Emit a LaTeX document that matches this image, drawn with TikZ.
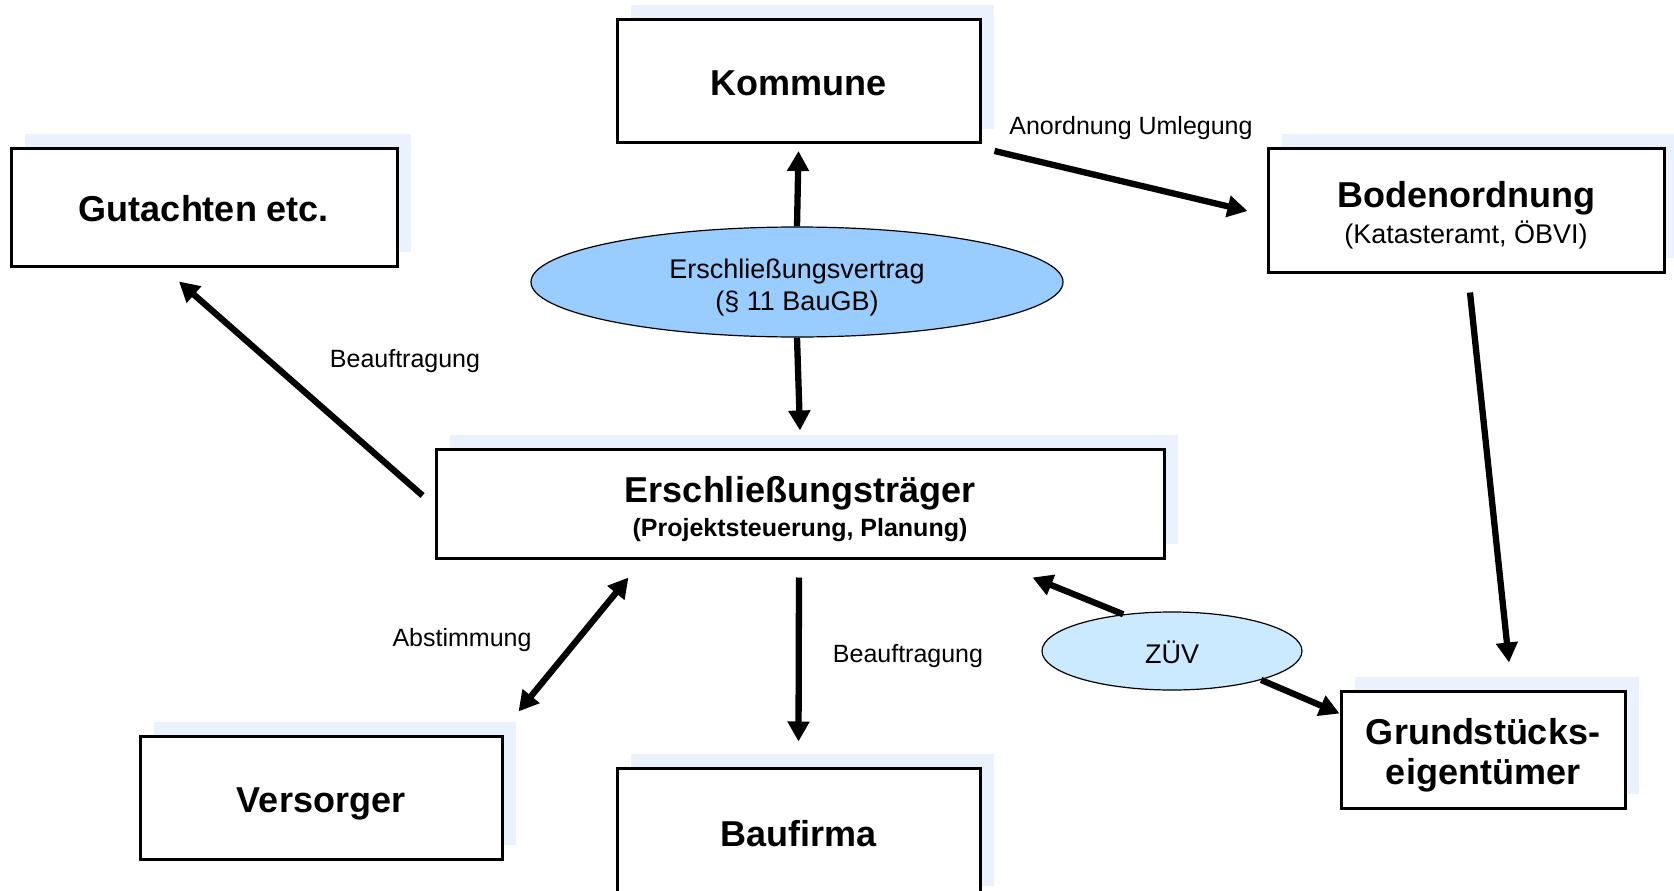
\documentclass[tikz,border=0pt]{standalone}
\usepackage{fontspec}
\setmainfont{Liberation Sans}
\usetikzlibrary{arrows.meta,calc,shadows,shapes.geometric}
\definecolor{shadowblue}{HTML}{EAF3FD}
\definecolor{vertragblue}{HTML}{99CCFF}
\definecolor{zuevblue}{HTML}{CCEAFF}
\newcommand{\lift}[1]{\rule{0pt}{#1pt}}
\begin{document}
\begin{tikzpicture}[x=1pt,y=-1pt,
  box/.style={draw=black, line width=3pt, fill=white, rectangle, inner sep=0pt, align=center,
    general shadow={fill=shadowblue, shadow xshift=14pt, shadow yshift=14pt}},
  big/.style={font=\fontsize{36}{40}\selectfont\bfseries},
  oval/.style={ellipse, draw=black, line width=1.2pt, inner sep=0pt, align=center,
    font=\fontsize{27}{32}\selectfont},
  lbl/.style={font=\fontsize{25}{30}\selectfont, inner sep=0pt},
  conn/.style={line width=6.3pt, -{Triangle[length=20pt,width=21pt]}},
  conntwo/.style={line width=6.3pt, {Triangle[length=20pt,width=21pt]}-{Triangle[length=20pt,width=21pt]}}
]
\useasboundingbox (0,0) rectangle (1674,891);
\clip (0,0) rectangle (1674,891);

\node[box, big, minimum width=363pt, minimum height=123pt] (kommune) at (798.5,81) {\lift{30}Kommune};
\node[box, big, minimum width=386pt, minimum height=118pt] (gutachten) at (204,207) {\lift{30}Gutachten etc.};
\node[box, big, minimum width=396pt, minimum height=124pt] (boden) at (1466,210)
  {\lift{37}Bodenordnung\\[-4pt]{\fontsize{27}{32}\selectfont\mdseries (Katasteramt, ÖBVI)}};
\node[box, big, minimum width=728pt, minimum height=109pt] (traeger) at (800,503.5)
  {\lift{37}Erschließungsträger\\[-6pt]{\fontsize{25}{28}\selectfont (Projektsteuerung, Planung)}};
\node[box, big, minimum width=362pt, minimum height=123pt] (versorger) at (321,797.5) {\lift{37}Versorger};
\node[box, big, minimum width=363pt, minimum height=132pt] (baufirma) at (798.5,834) {Baufirma};
\node[box, big, minimum width=284pt, minimum height=117pt] (grund) at (1483,749.5)
  {\lift{37}Grundstücks-\\eigentümer};

\node[oval, fill=vertragblue, minimum width=532pt, minimum height=110pt] (vertrag) at (797,282)
  {\lift{30}Erschließungsvertrag\\(§ 11 BauGB)};
\node[oval, fill=zuevblue, minimum width=260pt, minimum height=78pt] (zuev) at (1172,651) {\lift{26}ZÜV};

\node[lbl] (lanord) at (1131,128.5) {Anordnung Umlegung};
\node[lbl] (lbeaufa) at (405,361.5) {Beauftragung};
\node[lbl] (labst) at (462,640.5) {Abstimmung};
\node[lbl] (lbeaufb) at (908,656.5) {Beauftragung};

\draw[conn] (vertrag.north) -- ($(kommune.south)+(0,7)$);
\draw[conn] (vertrag.south) -- ($(traeger.north)+(0,-17)$);
\draw[conn] ($(kommune.south east)+(13,7)$) -- ($(boden.west)+(-19,1)$);
\draw[conn] ($(boden.south)+(4,19)$) -- ($(grund.north)+(26,-27)$);
\draw[conn] ($(traeger.west)+(-12,-8)$) -- ($(gutachten.south)+(-25,14)$);
\draw[conntwo] ($(traeger.south west)+(194,18)$) -- ($(versorger.north east)+(15,-23)$);
\draw[conn] ($(traeger.south)+(-1,18)$) -- ($(baufirma.north)+(0,-25)$);
\draw[conn] (zuev.143) -- ($(traeger.south east)+(-133,18)$);
\draw[conn] (zuev.-18) -- ($(grund.north west)+(0,24)$);
\end{tikzpicture}
\end{document}
